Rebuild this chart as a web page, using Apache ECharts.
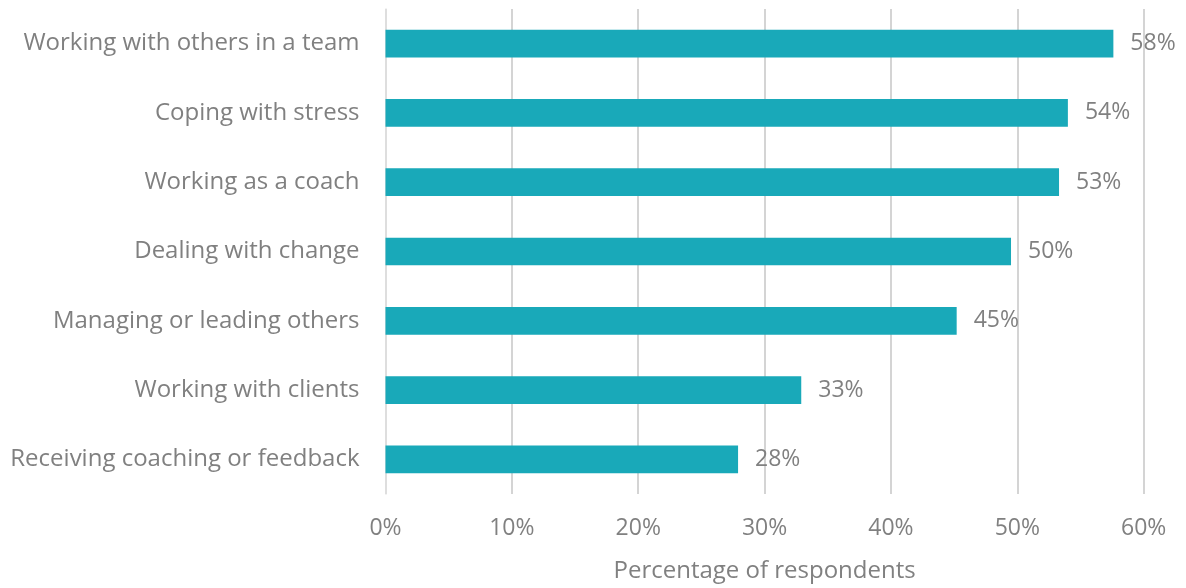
<!DOCTYPE html>
<html>
<head>
<meta charset="utf-8">
<script src="https://cdn.jsdelivr.net/npm/echarts@6/dist/echarts.min.js"></script>
<style>html,body{margin:0;padding:0;background:#fff}#c{width:1186px;height:588px}</style>
</head>
<body>
<div id="c"></div>
<script>
const categories = ["Working with others in a team","Coping with stress","Working as a coach","Dealing with change","Managing or leading others","Working with clients","Receiving coaching or feedback"];
const values = [57.6, 54.0, 53.3, 49.5, 45.2, 32.9, 27.9];
const xTicks = [0, 10, 20, 30, 40, 50, 60];

const chart = echarts.init(document.getElementById('c'));
const font = '"Open Sans", sans-serif';
chart.setOption({
  animation: false,
  grid: {left: 385.5, right: 42.3, top: 9, bottom: 92, containLabel: false},
  xAxis: {
    type: 'value', min: xTicks[0], max: xTicks[xTicks.length - 1], interval: 10,
    name: 'Percentage of respondents', nameLocation: 'middle', nameGap: 65,
    nameTextStyle: {color: '#808080', fontSize: 24, fontFamily: font},
    axisLine: {show: false}, axisTick: {show: false},
    axisLabel: {color: '#808080', fontSize: 23, fontFamily: font, margin: 23, formatter: v => v + '%'},
    splitLine: {show: true, lineStyle: {color: '#c6c6c6', width: 1.5}}
  },
  yAxis: {
    type: 'category', data: categories, inverse: true,
    axisLine: {show: true, lineStyle: {color: '#e2e2e2', width: 1.5}},
    axisTick: {show: false},
    axisLabel: {color: '#808080', fontSize: 24, fontFamily: font, margin: 26}
  },
  series: [{
    type: 'bar', data: values, barWidth: '40%',
    itemStyle: {color: '#19a9b9'},
    label: {show: true, position: 'right', distance: 17, color: '#808080', fontSize: 23, fontFamily: font,
      formatter: p => Math.round(p.value) + '%'}
  }]
});
</script>
</body>
</html>
